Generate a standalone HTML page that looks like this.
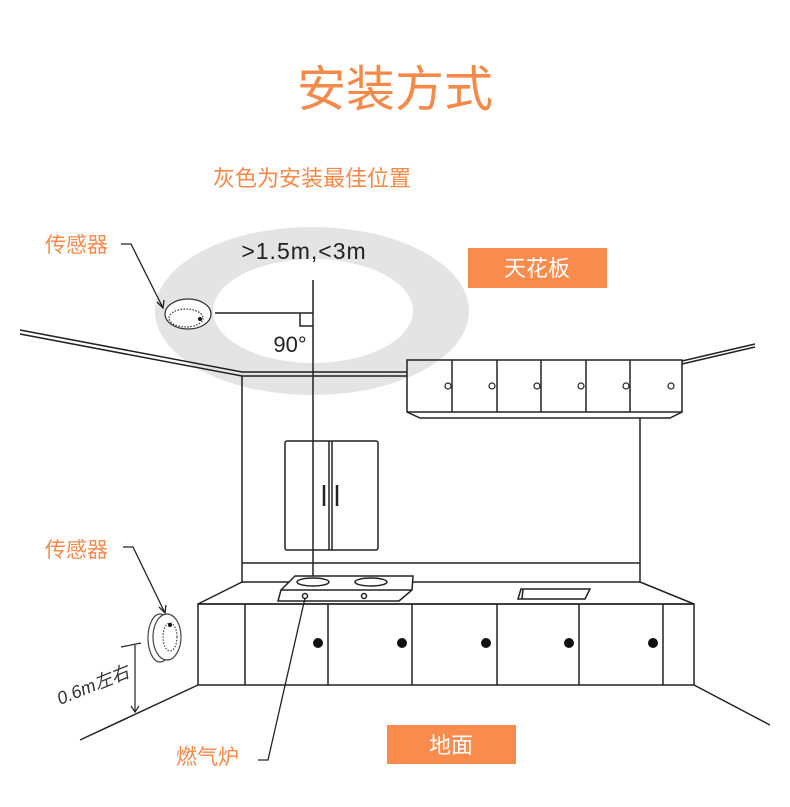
<!DOCTYPE html>
<html><head><meta charset="utf-8"><style>
html,body{margin:0;padding:0;background:#fff;}
svg{display:block;font-family:"Liberation Sans","Noto Sans CJK SC",sans-serif;}
</style></head><body>
<svg width="790" height="807" viewBox="0 0 790 807" xmlns="http://www.w3.org/2000/svg">
<rect width="790" height="807" fill="#fff"/>
<text x="395" y="106" text-anchor="middle" font-size="49" fill="#f5894a">安装方式</text>
<text x="312" y="186" text-anchor="middle" font-size="22" fill="#f5894a">灰色为安装最佳位置</text>
<!-- gray ring -->
<path fill-rule="evenodd" fill="#e4e4e4" d="M155,311 a157,84 0 1,0 314,0 a157,84 0 1,0 -314,0 Z M213,311 a100,52 0 1,0 200,0 a100,52 0 1,0 -200,0 Z"/>
<text x="304" y="259" text-anchor="middle" font-size="23" letter-spacing="1" fill="#222">&gt;1.5m,&lt;3m</text>
<text x="290" y="352" text-anchor="middle" font-size="22" fill="#222">90°</text>
<rect x="468" y="248" width="139" height="40" fill="#f98c4c"/>
<text x="537" y="276" text-anchor="middle" font-size="22" fill="#fff">天花板</text>
<g stroke="#222" fill="none" stroke-width="1.5">
<line x1="313" y1="280" x2="313" y2="578"/>
<line x1="215" y1="313" x2="313" y2="313"/>
<path d="M300,313 V326 H313"/>
<path d="M20,330 L242,372 H407"/>
<path d="M20,334 L242,376 H407"/>
<path d="M682,361 L755,344"/>
<path d="M682,364 L755,347"/>
<line x1="242" y1="376" x2="242" y2="583"/>
<line x1="640" y1="418" x2="640" y2="582"/>
<path d="M407,360 H682 V412 L670,418 H420 L407,412 Z"/>
<line x1="407" y1="412" x2="682" y2="412"/>
<line x1="452" y1="360" x2="452" y2="412"/>
<line x1="497" y1="360" x2="497" y2="412"/>
<line x1="541" y1="360" x2="541" y2="412"/>
<line x1="586" y1="360" x2="586" y2="412"/>
<line x1="630" y1="360" x2="630" y2="412"/>
</g>
<g stroke="#222" fill="#fff" stroke-width="1.2">
<circle cx="448" cy="386" r="3"/><circle cx="492" cy="386" r="3"/><circle cx="537" cy="386" r="3"/>
<circle cx="581" cy="386" r="3"/><circle cx="626" cy="386" r="3"/><circle cx="671" cy="386" r="3"/>
</g>
<g stroke="#222" fill="none" stroke-width="1.5">
<rect x="285" y="441" width="93" height="109" rx="2"/>
<line x1="329" y1="441" x2="329" y2="550"/>
<line x1="332" y1="441" x2="332" y2="550"/>
<line x1="324" y1="485" x2="324" y2="506" stroke-width="2.5"/>
<line x1="337" y1="485" x2="337" y2="506" stroke-width="2.5"/>
<line x1="242" y1="563" x2="640" y2="563"/>
<line x1="242" y1="582" x2="640" y2="582"/>
<path d="M242,582 L198,604 H694 L640,582"/>
<rect x="198" y="604" width="496" height="81"/>
<line x1="245" y1="604" x2="245" y2="685"/>
<line x1="328" y1="604" x2="328" y2="685"/>
<line x1="412" y1="604" x2="412" y2="685"/>
<line x1="497" y1="604" x2="497" y2="685"/>
<line x1="579" y1="604" x2="579" y2="685"/>
<line x1="663" y1="604" x2="663" y2="685"/>
<line x1="198" y1="685" x2="80" y2="740"/>
<line x1="694" y1="685" x2="770" y2="725"/>
<path d="M521,589 H590 L585,599 H518 Z" fill="#fff"/>
<line x1="523" y1="589" x2="522" y2="599"/>
</g>
<g stroke="#222" fill="#fff" stroke-width="1.5">
<path d="M295,576 H413 L412,590 L399,601 H278 L281,590 Z"/>
<line x1="281" y1="590" x2="412" y2="590"/>
<ellipse cx="313" cy="582" rx="16" ry="4"/>
<ellipse cx="371" cy="582" rx="16" ry="4"/>
<circle cx="305" cy="596" r="2.5"/>
<circle cx="364" cy="596" r="2.5"/>
</g>
<g fill="#111">
<circle cx="318" cy="643" r="5"/><circle cx="402" cy="643" r="5"/><circle cx="486" cy="643" r="5"/>
<circle cx="569" cy="643" r="5"/><circle cx="653" cy="643" r="5"/>
</g>
<g stroke="#333" fill="#fff" stroke-width="1.2">
<ellipse cx="188" cy="314" rx="23" ry="15"/>
<ellipse cx="186" cy="318" rx="17" ry="9" stroke-dasharray="1.5 1.5"/>
</g>
<circle cx="200" cy="319" r="2" fill="#111"/>
<g stroke="#444" fill="#fff" stroke-width="1.2">
<ellipse cx="160" cy="638" rx="12" ry="24"/>
<ellipse cx="167" cy="637" rx="14" ry="23"/>
<ellipse cx="170" cy="637" rx="7" ry="14" stroke-dasharray="1.5 1.5"/>
</g>
<circle cx="170" cy="625" r="2" fill="#111"/>
<text x="45" y="252" font-size="21" fill="#f5894a">传感器</text>
<path d="M121,244 H131 L163,308" stroke="#222" fill="none" stroke-width="1.3"/>
<path d="M157,302 L163,308 L164,300" stroke="#222" fill="none" stroke-width="1.3"/>
<text x="45" y="557" font-size="21" fill="#f5894a">传感器</text>
<path d="M123,547 H133 L165,613" stroke="#222" fill="none" stroke-width="1.3"/>
<path d="M159,607 L165,613 L166,605" stroke="#222" fill="none" stroke-width="1.3"/>
<g stroke="#222" stroke-width="1.2">
<line x1="121" y1="647" x2="141" y2="643"/>
<line x1="135" y1="645" x2="135" y2="712"/>
<path d="M131,706 L135,712 L139,706" fill="none"/>
</g>
<text transform="translate(60,705) rotate(-22)" font-size="18" font-style="italic" fill="#333">0.6m左右</text>
<text x="176" y="764" font-size="21" fill="#f5894a">燃气炉</text>
<path d="M258,760 H268 L305,598" stroke="#222" fill="none" stroke-width="1.3"/>
<rect x="387" y="725" width="129" height="39" fill="#f98c4c"/>
<text x="451" y="753" text-anchor="middle" font-size="22" fill="#fff">地面</text>
</svg>
</body></html>
